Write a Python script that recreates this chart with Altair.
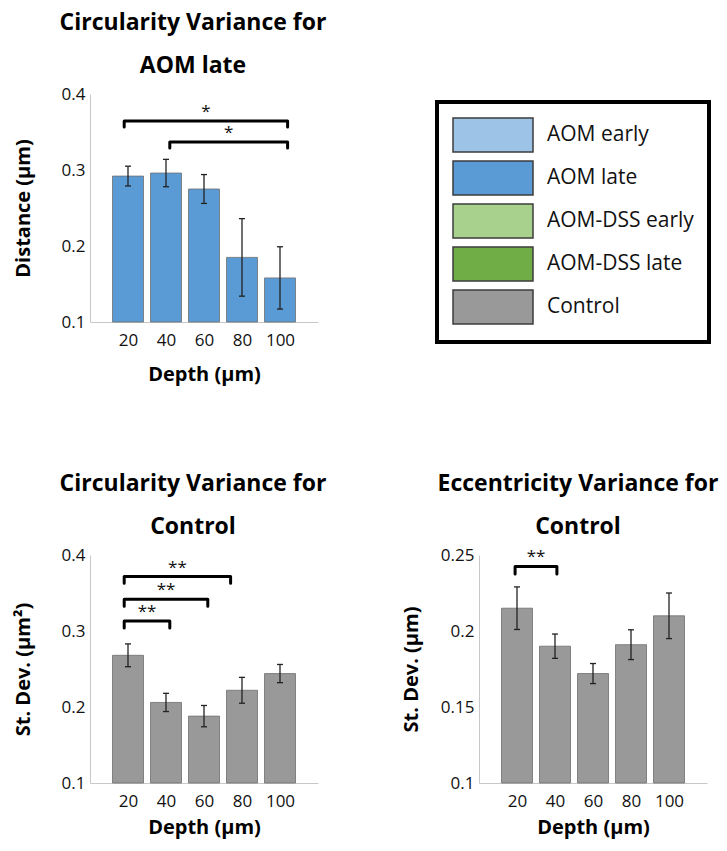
import altair as alt
import pandas as pd

# ---------------- data ----------------
depths = [20, 40, 60, 80, 100]

aom_late_mean = [0.292, 0.296, 0.275, 0.185, 0.158]
aom_late_err = [0.013, 0.018, 0.019, 0.051, 0.041]

ctrl_circ_mean = [0.268, 0.206, 0.188, 0.222, 0.244]
ctrl_circ_err = [0.015, 0.012, 0.014, 0.017, 0.012]

ctrl_ecc_mean = [0.215, 0.190, 0.172, 0.191, 0.210]
ctrl_ecc_err = [0.014, 0.008, 0.0066, 0.0098, 0.015]

groups = ["AOM early", "AOM late", "AOM-DSS early", "AOM-DSS late", "Control"]
group_colors = ["#9dc3e6", "#5b9bd5", "#a9d18e", "#70ad47", "#999999"]

# significance brackets: (from depth, to depth, height, label)
sig_a = [(18, 104, 0.3645, "*"), (42, 104, 0.337, "*")]
sig_b = [(18, 74, 0.3717, "**"), (18, 62, 0.3417, "**"), (18, 42, 0.313, "**")]
sig_c = [(19, 41, 0.2425, "**")]

FONT = "Open Sans"


def bar_df(means, errs, group):
    return pd.DataFrame({
        "depth": depths,
        "mean": means,
        "lo": [m - e for m, e in zip(means, errs)],
        "hi": [m + e for m, e in zip(means, errs)],
        "group": group,
    })


def bracket_df(sigs, drop):
    rows = []
    for i, (x1, x2, y, lab) in enumerate(sigs):
        rows += [
            {"b": i, "o": 0, "x": x1, "y": y - drop},
            {"b": i, "o": 1, "x": x1, "y": y},
            {"b": i, "o": 2, "x": x2, "y": y},
            {"b": i, "o": 3, "x": x2, "y": y - drop},
        ]
    lab = pd.DataFrame({
        "x": [(s[0] + s[1]) / 2 for s in sigs],
        "y": [s[2] for s in sigs],
        "lab": [s[3] for s in sigs],
    })
    return pd.DataFrame(rows), lab


def panel(means, errs, group, sigs, drop, ydom, ytick, ytitle, title_lines,
          legend=False, fmt=".1f", title_dx=-11, ytitle_pad=28, xtitle_pad=16):
    df = bar_df(means, errs, group)
    xs = alt.Scale(domain=[0, 120], nice=False, padding=0)
    ys = alt.Scale(domain=ydom, nice=False, zero=False, padding=0)
    xax = alt.Axis(values=depths, title="Depth (µm)", grid=False, ticks=False,
                   labelPadding=10, titlePadding=xtitle_pad,
                   domainColor="#c8c8c8")
    yax = alt.Axis(values=ytick, title=ytitle, grid=False, ticks=False,
                   format=fmt, labelPadding=5, titlePadding=ytitle_pad,
                   domainColor="#c8c8c8")
    if legend:
        color = alt.Color(
            "group:N",
            scale=alt.Scale(domain=groups, range=group_colors),
            legend=alt.Legend(
                orient="none", legendX=347, legendY=8, title=None,
                symbolType="M-1,-1H3.706V1H-1Z", symbolSize=1156,
                symbolStrokeColor="#3c3c3c", symbolStrokeWidth=1.5,
                symbolOpacity=1, labelFont=FONT, labelFontSize=21,
                labelColor="#111", labelOffset=59, rowPadding=3,
                padding=15, strokeColor="black",
            ),
        )
    else:
        color = alt.Color(
            "group:N",
            scale=alt.Scale(domain=groups, range=group_colors),
            legend=None,
        )
    base = alt.Chart(df)
    bars = base.mark_bar(size=31, stroke="#6f6f6f", strokeWidth=1,
                         strokeOpacity=0.8).encode(
        x=alt.X("depth:Q", scale=xs, axis=xax),
        y=alt.Y("mean:Q", scale=ys, axis=yax),
        y2=alt.datum(ydom[0]),
        color=color,
    )
    err = base.mark_rule(color="#222", strokeWidth=1.3).encode(
        x="depth:Q", y="lo:Q", y2="hi:Q")
    cap_hi = base.mark_tick(orient="horizontal", size=6, thickness=1.3,
                            color="#222", opacity=1).encode(
        x="depth:Q", y="hi:Q")
    cap_lo = base.mark_tick(orient="horizontal", size=6, thickness=1.3,
                            color="#222", opacity=1).encode(
        x="depth:Q", y="lo:Q")
    bdf, ldf = bracket_df(sigs, drop)
    br = alt.Chart(bdf).mark_line(color="black", strokeWidth=3,
                                  strokeJoin="round", strokeCap="round").encode(
        x="x:Q", y="y:Q", detail="b:N", order="o:Q")
    lab = alt.Chart(ldf).mark_text(font=FONT, fontSize=17, baseline="bottom",
                                   dy=0, color="#111").encode(
        x="x:Q", y="y:Q", text="lab:N")
    return alt.layer(bars, err, cap_hi, cap_lo, br, lab).properties(
        width=228, height=228,
        title=alt.Title(title_lines, font=FONT, fontSize=23, fontWeight="bold",
                        lineHeight=43, offset=7, dx=title_dx, color="#000"),
    )


a = panel(aom_late_mean, aom_late_err, "AOM late", sig_a, 0.008,
          [0.1, 0.4], [0.1, 0.2, 0.3, 0.4], "Distance (µm)",
          ["Circularity Variance for", "AOM late"], legend=True)
b = panel(ctrl_circ_mean, ctrl_circ_err, "Control", sig_b, 0.009,
          [0.1, 0.4], [0.1, 0.2, 0.3, 0.4], "St. Dev. (µm²)",
          ["Circularity Variance for", "Control"], xtitle_pad=8)
c = panel(ctrl_ecc_mean, ctrl_ecc_err, "Control", sig_c, 0.005,
          [0.1, 0.25], [0.1, 0.15, 0.2, 0.25], "St. Dev. (µm)",
          ["Eccentricity Variance for", "Control"], fmt="~g", title_dx=-15,
          ytitle_pad=19, xtitle_pad=8)

chart = alt.vconcat(
    a,
    alt.hconcat(b, c, spacing=74),
    spacing=89,
).resolve_scale(color="independent").configure_view(stroke=None).configure_axis(
    labelFont=FONT, labelFontSize=17, labelColor="#111",
    titleFont=FONT, titleFontSize=20, titleFontWeight="bold", titleColor="#000",
).configure_legend(strokeColor="black", strokeWidth=4).properties(
    padding={"left": 5, "top": 4, "right": 0, "bottom": 2})

chart.save("out.html", embed_options={"renderer": "svg", "actions": False})
